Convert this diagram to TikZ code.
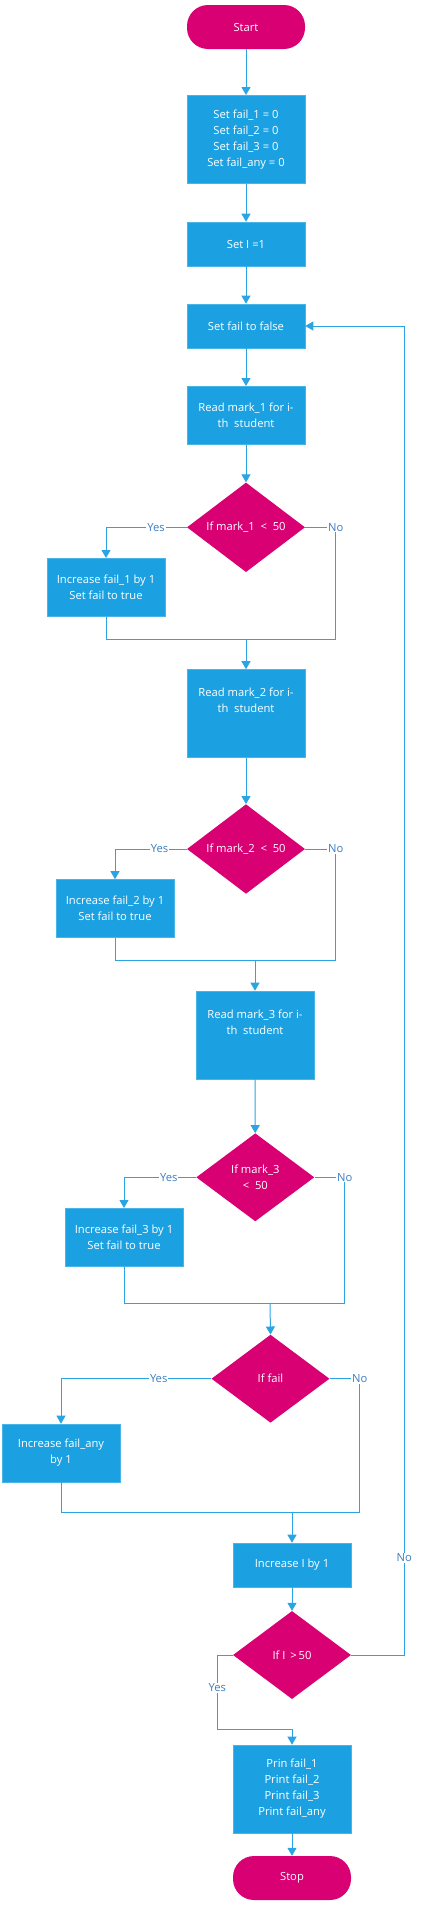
\documentclass[tikz,border=0pt]{standalone}
\usepackage{fontspec}
\setmainfont{Open Sans}
\usetikzlibrary{shapes.geometric,arrows.meta}
\definecolor{boxblue}{HTML}{1BA1E2}
\definecolor{magent}{HTML}{D80073}
\definecolor{linecol}{HTML}{2AA4E2}
\definecolor{lblcol}{HTML}{3B7DC0}
\tikzset{
  every node/.style={font=\fontsize{11.2}{16}\selectfont},
  procbox/.style={rectangle, fill=boxblue, draw=boxblue!80!white, line width=0.6pt, text=white, align=center, minimum width=118pt, inner sep=0pt},
  termbox/.style={rectangle, rounded corners=21pt, fill=magent, text=white, align=center, minimum width=118pt, minimum height=44pt, inner sep=0pt},
  decbox/.style={diamond, fill=magent, text=white, align=center, minimum width=118pt, minimum height=88pt, inner sep=0pt},
  conn/.style={draw=linecol, line width=1pt},
  arr/.style={conn, -{Triangle[width=9pt,length=8pt]}},
  lbl/.style={fill=white, text=lblcol, inner sep=1pt, font=\fontsize{11.2}{12}\selectfont},
}
\begin{document}
\begin{tikzpicture}[x=1pt,y=-1pt]
\useasboundingbox (0,0) rectangle (421,1906);
% nodes
\node[termbox] (start) at (246,27) {Start};
\node[procbox, minimum height=88pt] (b1) at (246,139.3) {Set fail\_1 = 0\\Set fail\_2 = 0\\Set fail\_3 = 0\\Set fail\_any = 0};
\node[procbox, minimum height=44pt] (b2) at (246,244) {Set I =1};
\node[procbox, minimum height=44pt] (b3) at (246,326) {Set fail to false};
\node[procbox, minimum height=58pt] (b4) at (246,415.3) {Read mark\_1 for i-\\th\ \ student};
\node[decbox] (d1) at (246,527.3) {If mark\_1 \ <\ \ 50};
\node[procbox, minimum height=58pt] (y1) at (106,587.3) {Increase fail\_1 by 1\\Set fail to true};
\node[procbox, minimum height=88pt] (b6) at (246,713.5) {Read mark\_2 for i-\\th\ \ student\\[10pt]\mbox{}};
\node[decbox] (d2) at (246,849) {If mark\_2 \ <\ \ 50};
\node[procbox, minimum height=58pt] (y2) at (115,908.5) {Increase fail\_2 by 1\\Set fail to true};
\node[procbox, minimum height=88pt] (b8) at (255,1035) {Read mark\_3 for i-\\th\ \ student\\[10pt]\mbox{}};
\node[decbox] (d3) at (255.3,1177.3) {If mark\_3\\<\ \ 50};
\node[procbox, minimum height=58pt] (y3) at (124,1237.3) {Increase fail\_3 by 1\\Set fail to true};
\node[decbox] (d4) at (270.5,1378.7) {If fail};
\node[procbox, minimum height=58pt] (y4) at (61,1453) {Increase fail\_any\\by 1};
\node[procbox, minimum height=44pt] (b11) at (292,1565) {Increase I by 1};
\node[decbox] (d5) at (292,1655) {If I \,>\,50};
\node[procbox, minimum height=88pt] (b12) at (292,1789) {Prin fail\_1\\Print fail\_2\\Print fail\_3\\Print fail\_any};
\node[termbox] (stop) at (292,1878) {Stop};
% coordinates
\coordinate (n1) at (335.7,639);
\coordinate (m1) at (246,639);
\coordinate (n2) at (335.7,960.3);
\coordinate (m2) at (255,960.3);
\coordinate (n3) at (344.7,1303.7);
\coordinate (m3) at (270,1303.7);
\coordinate (n4) at (359.7,1512.7);
\coordinate (m4) at (292,1512.7);
\coordinate (lp) at (404.3,1655);
\coordinate (yl) at (217.3,1729.3);
% connectors
\draw[arr] (start) -- (b1);
\draw[arr] (b1) -- (b2);
\draw[arr] (b2) -- (b3);
\draw[arr] (b3) -- (b4);
\draw[arr] (b4) -- (d1);
\draw[arr] (d1.west) -- node[lbl,pos=0.38]{Yes} (d1.west -| y1) -- (y1.north);
\draw[conn] (d1.east) -| node[lbl,pos=0.5]{No} (n1) -- (n1 -| y1) -- (y1.south);
\draw[arr] (m1) -- (b6.north);
\draw[arr] (b6) -- (d2);
\draw[arr] (d2.west) -- node[lbl,pos=0.38]{Yes} (d2.west -| y2) -- (y2.north);
\draw[conn] (d2.east) -| node[lbl,pos=0.5]{No} (n2) -- (n2 -| y2) -- (y2.south);
\draw[arr] (m2) -- (b8.north);
\draw[arr] (b8) -- (d3);
\draw[arr] (d3.west) -- node[lbl,pos=0.38]{Yes} (d3.west -| y3) -- (y3.north);
\draw[conn] (d3.east) -| node[lbl,pos=0.5]{No} (n3) -- (n3 -| y3) -- (y3.south);
\draw[arr] (m3) -- (d4.north);
\draw[arr] (d4.west) -- node[lbl,pos=0.35]{Yes} (d4.west -| y4) -- (y4.north);
\draw[conn] (d4.east) -| node[lbl,pos=0.5]{No} (n4) -- (n4 -| y4) -- (y4.south);
\draw[arr] (m4) -- (b11.north);
\draw[arr] (b11) -- (d5);
\draw[arr] (d5.east) -- (lp) -- node[lbl,pos=0.073]{No} (lp |- b3.east) -- (b3.east);
\draw[arr] (d5.west) -| node[lbl,pos=0.72]{Yes} (yl) -- (yl -| b12) -- (b12.north);
\draw[arr] (b12) -- (stop);
\end{tikzpicture}
\end{document}
